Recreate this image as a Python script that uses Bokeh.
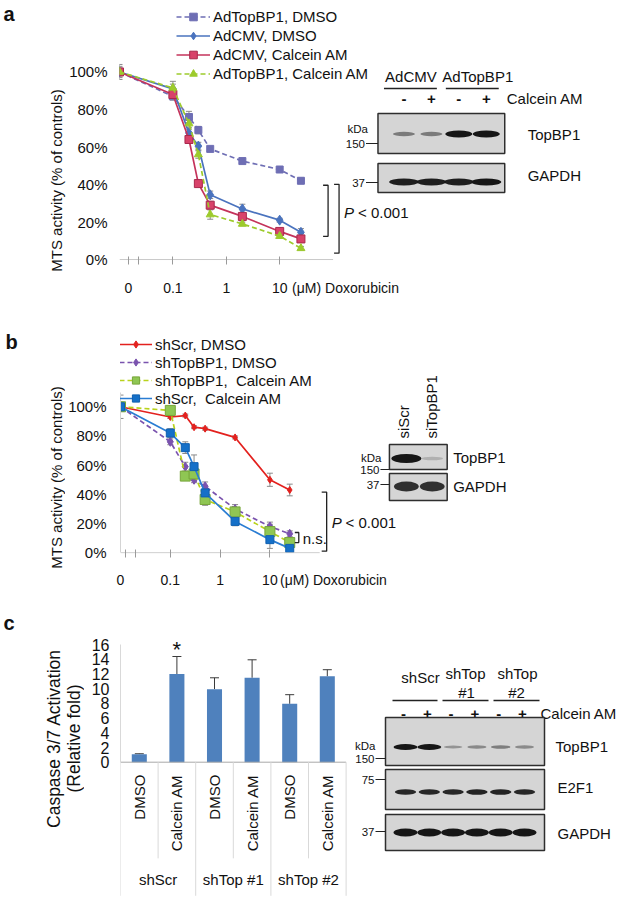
import math
from bokeh.plotting import figure
from bokeh.models import (Range1d, FixedTicker, Legend, LegendItem, Whisker,
                          ColumnDataSource, TeeHead, LinearScale)
from bokeh.layouts import column, row
from bokeh.embed import file_html
from bokeh.resources import INLINE
from bokeh.core.properties import value

FONT = "Liberation Sans"
PAGE_W = 619

# ------------------------------------------------------------------ data: panel a
conc = [0, 0.1, 0.2, 0.3, 0.5, 2, 10, 25]          # uM doxorubicin
zero_pos = 0.01                                      # where the 0 dose sits on the log axis
x_axis_end = 100
a_names = ["AdTopBP1, DMSO", "AdCMV, DMSO", "AdCMV, Calcein AM", "AdTopBP1, Calcein AM"]
a_topbp1_dmso = [100, 87, 76, 69, 59, 52.5, 48, 42]
a_cmv_dmso = [100, 91, 67.5, 60.5, 34.5, 27, 21, 14.5]
a_cmv_calcein = [100, 88, 64, 40.5, 29, 23, 15, 11]
a_topbp1_calcein = [100, 91.5, 72.5, 56, 24, 19, 12.5, 6]
a_topbp1_dmso_err = [4, 2, 3, 2, 1, 1, 1, 1.5]
a_cmv_dmso_err = [3, 4, 2, 2, 2, 2.5, 1, 2]
a_cmv_calcein_err = [2, 2, 1.5, 1.5, 2, 1.5, 1, 1]
a_topbp1_calcein_err = [2, 2, 2, 2, 2.5, 1, 1, 1]
a_brackets = [[39.6, 12.4], [40.1, 3.4]]            # % range spanned by each P bracket
a_breaks = [0.0147, 0.0226]
a_unit_tick = 171
pvalue_text = "< 0.001"
unit_text = "(\u03bcM) Doxorubicin"

# ------------------------------------------------------------------ data: panel b
b_names = ["shScr, DMSO", "shTopBP1, DMSO", "shTopBP1,\u00a0 Calcein AM", "shScr,\u00a0 Calcein AM"]
b_scr_dmso = [100, 93, 94, 86, 85, 79, 50, 43]
b_top_dmso = [100, 76, 59, 50, 45.5, 30, 18, 13]
b_top_calcein = [100, 97.5, 52.5, 54, 36.5, 28, 14.5, 7]
b_scr_calcein = [100, 82, 72, 59, 41, 21.5, 9, 3]
b_scr_dmso_err = [3, 1, 1, 1, 1, 1, 4.5, 4]
b_top_dmso_err = [3, 2, 3, 2, 3, 3, 3, 2]
b_top_calcein_err = [3, 2, 2, 3, 4, 3, 5, 3]
b_scr_calcein_err = [8, 3, 4, 8, 3, 3, 6, 2]
b_bracket_p = [41.5, 1.1]
b_bracket_ns = [13.9, 7.0]
b_breaks = [0.0128, 0.0202]
b_unit_tick = 189

# ------------------------------------------------------------------ data: panel c
c_groups = ["shScr", "shTop #1", "shTop #2"]
c_treatments = ["DMSO", "Calcein AM", "DMSO", "Calcein AM", "DMSO", "Calcein AM"]
c_values = [1.1, 12.0, 9.95, 11.5, 7.95, 11.7]
c_errors = [0.05, 2.4, 1.55, 2.45, 1.25, 0.9]
c_yticks = [0, 2, 4, 6, 8, 10, 12, 14, 16]

# ------------------------------------------------------------------ data: blots (band intensities)
blot_a_groups = ["AdCMV", "AdTopBP1"]
blot_a_signs = ["-", "+", "-", "+"]
blot_a_topbp1 = [0.4, 0.4, 1.0, 1.0]
blot_a_gapdh = [0.95, 0.95, 0.95, 1.0]
blot_b_lanes = ["siScr", "siTopBP1"]
blot_b_topbp1 = [1.0, 0.08]
blot_b_gapdh = [0.85, 0.85]
blot_c_signs = ["-", "+", "-", "+", "-", "+"]
blot_c_topbp1 = [1.0, 1.0, 0.25, 0.32, 0.38, 0.3]
blot_c_e2f1 = [0.9, 0.9, 0.9, 0.92, 0.92, 0.9]
blot_c_gapdh = [1.0, 1.0, 1.0, 1.0, 1.0, 1.0]

pct_labels = {t: f"{t}%" for t in [0, 20, 40, 60, 80, 100]}
INK = "#111111"


def clean(p):
    p.outline_line_color = None
    for g in p.grid:
        g.grid_line_color = None
    p.background_fill_color = "white"
    p.border_fill_color = "white"


def make_fig(width, height, left, bottom, x_range, y_range, x_type="linear", x_axis=True):
    p = figure(width=width, height=height, x_range=x_range, y_range=y_range,
               x_axis_type=x_type, output_backend="svg", toolbar_location=None,
               title=None, min_border_left=left, min_border_right=0,
               min_border_top=0, min_border_bottom=bottom, frame_align=False,
               x_axis_location=("below" if x_axis else None))
    clean(p)
    return p


def strip(width, height, top):
    s = figure(width=width, height=height, x_range=Range1d(0, width),
               y_range=Range1d(-(top + height), -top), output_backend="svg",
               toolbar_location=None, title=None, min_border=0, frame_align=False,
               x_axis_location=None, y_axis_location=None)
    clean(s)
    return s


def set_blot_ranges(p, x0, x1, ytop, ybot):
    p.extra_x_ranges = {"blot": Range1d(x0, x1)}
    p.extra_y_ranges = {"blot": Range1d(-ybot, -ytop)}
    p.extra_x_scales = {"blot": LinearScale()}
    p.extra_y_scales = {"blot": LinearScale()}


def txt(p, x, y, s, size="15px", align="left", base="middle", style="normal", angle=0,
        blot=True):
    kw = dict(x_range_name="blot", y_range_name="blot") if blot else {}
    p.text(x=x, y=[-v for v in y], text=s, text_font=value(FONT), text_font_size=size,
           text_align=align, text_baseline=base, text_font_style=style, angle=angle,
           text_color=INK, **kw)


def box(p, x0, x1, y0, y1):
    p.quad(left=[x0], right=[x1], top=[-y0], bottom=[-y1], fill_color="#D5D5D5",
           line_color="#2E2E2E", line_width=1.5, x_range_name="blot", y_range_name="blot")


def bands(p, x0, dx, yc, inten, w, h):
    xs = [x0 + i * dx for i in range(len(inten))]
    p.ellipse(x=xs, y=[-yc] * len(inten), width=[w * (0.7 + 0.3 * v) for v in inten],
              height=[h * (0.35 + 0.65 * v) for v in inten], fill_color="#161616",
              fill_alpha=[0.12 + 0.88 * v for v in inten], line_color=None,
              x_range_name="blot", y_range_name="blot")


def marker_tick(p, label, xr, y, xbox, size="11.5px"):
    txt(p, [xr], [y], [label], size=size, align="right")
    p.segment(x0=[xr + 1], y0=[-y], x1=[xbox], y1=[-y], line_color="#222222", line_width=1,
              x_range_name="blot", y_range_name="blot")


def series(p, xs, ys, err, color, marker, msize, dash, fill=None, mline=None):
    src = ColumnDataSource(dict(x=xs, upper=[a + b for a, b in zip(ys, err)],
                                lower=[a - b for a, b in zip(ys, err)]))
    p.add_layout(Whisker(source=src, base="x", upper="upper", lower="lower",
                         line_color="#8A8A8A", line_width=1,
                         upper_head=TeeHead(size=6, line_color="#8A8A8A", line_width=1),
                         lower_head=TeeHead(size=6, line_color="#8A8A8A", line_width=1)))
    r1 = p.line(xs, ys, line_color=color, line_width=1.7, line_dash=dash)
    r2 = p.scatter(xs, ys, marker=marker, size=msize, fill_color=fill or color,
                   line_color=mline or color, line_width=1)
    return [r1, r2]


def style_y(p, standoff, yline, size="15px"):
    for ax in p.yaxis:
        ax.major_label_text_font = FONT
        ax.major_label_text_font_size = size
        ax.major_label_text_color = INK
        ax.major_tick_line_color = None
        ax.major_tick_in = 0
        ax.major_tick_out = 0
        ax.minor_tick_line_color = None
        ax.minor_tick_in = 0
        ax.minor_tick_out = 0
        ax.axis_line_color = yline
        ax.major_label_standoff = standoff


def dose_axis(p, breaks, unit_tick, standoff, zero_label_pos):
    ticks = [zero_label_pos, 0.1, 1, 10, unit_tick]
    ax = p.xaxis[0]
    ax.ticker = FixedTicker(ticks=ticks, minor_ticks=list(breaks) + [0.1, 1, 10])
    ax.major_label_overrides = {ticks[0]: "0", 0.1: "0.1", 1: "1", 10: "10", unit_tick: unit_text}
    ax.bounds = (zero_pos, unit_tick)
    ax.axis_line_color = None
    ax.major_tick_line_color = None
    ax.major_tick_in = 0
    ax.major_tick_out = 4
    ax.minor_tick_line_color = "#9A9A9A"
    ax.minor_tick_in = 4
    ax.minor_tick_out = 4
    ax.major_label_text_font = FONT
    ax.major_label_text_font_size = "14px"
    ax.major_label_text_color = INK
    ax.major_label_standoff = standoff
    # visible axis rule from the 0-dose position to the end of the dose scale
    p.segment(x0=[zero_pos], x1=[x_axis_end], y0=[0], y1=[0], line_color="#C8C8C8", line_width=1)


xs_dose = [zero_pos if c == 0 else c for c in conc]

# ================================================================== panel a
SA, HA, bottomA, topA = 66, 310, 50, 0
fhA = HA - bottomA
pxpctA, decA = 1.876, 53.5
fwA = PAGE_W - SA - 52
pa = make_fig(PAGE_W - SA, HA, 52, bottomA,
              Range1d(zero_pos, 10 ** (math.log10(zero_pos) + fwA / decA)),
              Range1d(-0.5, fhA / pxpctA - 0.5), x_type="log")
set_blot_ranges(pa, 118, PAGE_W, topA, topA + fhA)

ra = []
ra.append(series(pa, xs_dose, a_topbp1_dmso, a_topbp1_dmso_err, "#6E6EB4", "square", 7, "5 3"))
ra.append(series(pa, xs_dose, a_cmv_dmso, a_cmv_dmso_err, "#4A73BE", "diamond", 10, "solid"))
ra.append(series(pa, xs_dose, a_cmv_calcein, a_cmv_calcein_err, "#C4335B", "square", 8, "solid",
                 fill="#D8426A", mline="#A8284C"))
ra.append(series(pa, xs_dose, a_topbp1_calcein, a_topbp1_calcein_err, "#9DCB2C", "triangle", 8, "5 3"))

pa.yaxis.ticker = FixedTicker(ticks=[0, 20, 40, 60, 80, 100])
pa.yaxis.major_label_overrides = pct_labels
style_y(pa, 12, None)
dose_axis(pa, a_breaks, a_unit_tick, 15, a_breaks[0])

legA = Legend(items=[LegendItem(label=n, renderers=r) for n, r in zip(a_names, ra)],
              location=(57, 177), padding=0, margin=0, spacing=0, glyph_width=34,
              glyph_height=19, label_height=19, label_standoff=3, border_line_color=None,
              background_fill_alpha=0, label_text_font=FONT, label_text_font_size="15px",
              label_text_color=INK)
pa.add_layout(legA)

for (xv, xt), (yt, yb) in zip([(327, 322), (338, 333)], a_brackets):
    pa.line(x=[xt, xv, xv, xt], y=[yt, yt, yb, yb], x_range_name="blot",
            line_color="#222222", line_width=1.3)
pa.text(x=[343], y=[25.2], text=["P"], x_range_name="blot", text_font=value(FONT),
        text_font_size="15px", text_font_style="italic", text_baseline="middle", text_color=INK)
pa.text(x=[357], y=[25.2], text=[pvalue_text], x_range_name="blot", text_font=value(FONT),
        text_font_size="15px", text_baseline="middle", text_color=INK)

# blot a
txt(pa, [410, 477], [76, 76], blot_a_groups, align="center")
pa.segment(x0=[383, 445], y0=[-88, -88], x1=[436, 498], y1=[-88, -88], line_color="#222222",
           line_width=1.3, x_range_name="blot", y_range_name="blot")
txt(pa, [403 + i * 27.5 for i in range(4)], [98] * 4, blot_a_signs, style="bold", align="center")
txt(pa, [506], [98], ["Calcein AM"])
box(pa, 377, 504, 113, 153)
bands(pa, 403, 27.5, 133.5, blot_a_topbp1, 27, 7)
box(pa, 377, 504, 163, 192)
bands(pa, 403, 27.5, 181.5, blot_a_gapdh, 30, 7)
txt(pa, [527], [134], ["TopBP1"])
txt(pa, [527], [175], ["GAPDH"])
txt(pa, [367], [128], ["kDa"], size="11.5px", align="right")
marker_tick(pa, "150", 364, 143, 377)
marker_tick(pa, "37", 364, 182, 377)

sa = strip(SA, HA, topA)
txt(sa, [3], [13], ["a"], size="20px", style="bold", blot=False)
txt(sa, [56], [180], ["MTS activity (% of controls)"], align="center", angle=math.pi / 2, blot=False)

# ================================================================== panel b
SB, HB, bottomB, topB = 65, 287, 44, 310
fhB = HB - bottomB
pxpctB, decB = 1.46, 50
fwB = PAGE_W - SB - 53
pb = make_fig(PAGE_W - SB, HB, 53, bottomB,
              Range1d(zero_pos, 10 ** (math.log10(zero_pos) + fwB / decB)),
              Range1d(-0.5, fhB / pxpctB - 0.5), x_type="log")
set_blot_ranges(pb, 118, PAGE_W, topB, topB + fhB)

rb = []
rb.append(series(pb, xs_dose, b_scr_dmso, b_scr_dmso_err, "#E3211E", "diamond", 7, "solid"))
rb.append(series(pb, xs_dose, b_top_dmso, b_top_dmso_err, "#7A53AE", "diamond", 9, "5 3"))
rb.append(series(pb, xs_dose, b_top_calcein, b_top_calcein_err, "#B9D21C", "square", 10, "5 3",
                 fill="#8FC653", mline="#77A53A"))
rb.append(series(pb, xs_dose, b_scr_calcein, b_scr_calcein_err, "#2A7DD3", "square", 8, "solid",
                 fill="#1570C8", mline="#1060B0"))

pb.yaxis.ticker = FixedTicker(ticks=[0, 20, 40, 60, 80, 100])
pb.yaxis.major_label_overrides = pct_labels
pb.yaxis.bounds = (0, 110)
style_y(pb, 14, "#D4D4D4")
dose_axis(pb, b_breaks, b_unit_tick, 14, zero_pos)

legB = Legend(items=[LegendItem(label=n, renderers=r) for n, r in zip(b_names, rb)],
              location=(-1, 146), padding=0, margin=0, spacing=0, glyph_width=33,
              glyph_height=18, label_height=18, label_standoff=3, border_line_color=None,
              background_fill_alpha=0, label_text_font=FONT, label_text_font_size="15px",
              label_text_color=INK)
pb.add_layout(legB)

pb.line(x=[320, 325, 325, 320], y=[b_bracket_p[0], b_bracket_p[0], b_bracket_p[1], b_bracket_p[1]],
        x_range_name="blot", line_color="#222222", line_width=1.3)
pb.line(x=[293, 297, 297, 293], y=[b_bracket_ns[0], b_bracket_ns[0], b_bracket_ns[1], b_bracket_ns[1]],
        x_range_name="blot", line_color="#222222", line_width=1.3)
pb.text(x=[330], y=[20.7], text=["P"], x_range_name="blot", text_font=value(FONT),
        text_font_size="15px", text_font_style="italic", text_baseline="middle", text_color=INK)
pb.text(x=[344], y=[20.7], text=[pvalue_text], x_range_name="blot", text_font=value(FONT),
        text_font_size="15px", text_baseline="middle", text_color=INK)
pb.text(x=[301], y=[9.8], text=["n.s."], x_range_name="blot", text_font=value(FONT),
        text_font_size="15px", text_baseline="middle", text_color=INK)

# blot b
txt(pb, [402, 430], [438, 438], blot_b_lanes, angle=math.pi / 2)
box(pb, 388, 446, 444, 469)
bands(pb, 405, 26, 458, blot_b_topbp1, 30, 9)
box(pb, 388, 446, 473, 500)
bands(pb, 405, 26, 486, blot_b_gapdh, 26, 11)
txt(pb, [452], [457], ["TopBP1"])
txt(pb, [452], [486], ["GAPDH"])
txt(pb, [380], [457], ["kDa"], size="11.5px", align="right")
marker_tick(pb, "150", 378, 469, 388)
marker_tick(pb, "37", 378, 484, 388)

sb = strip(SB, HB, topB)
txt(sb, [5], [341], ["b"], size="20px", style="bold", blot=False)
txt(sb, [56], [477], ["MTS activity (% of controls)"], align="center", angle=math.pi / 2, blot=False)

# ================================================================== panel c
SC, HC, topC = 84, 303, 597
pxunitC, catpx = 7.34, 37.6
zeroC = 761.7 - topC
pc = make_fig(PAGE_W - SC, HC, 36, 0, Range1d(0, (PAGE_W - 120) / catpx),
              Range1d(-(HC - zeroC) / pxunitC, zeroC / pxunitC), x_axis=False)
set_blot_ranges(pc, 120, PAGE_W, topC, topC + HC)

xc = [i + 0.5 for i in range(len(c_values))]
pc.vbar(x=xc, top=c_values, width=0.4, bottom=0, fill_color="#4F81BD", line_color=None)
srcC = ColumnDataSource(dict(x=xc, lower=c_values, upper=[v + e for v, e in zip(c_values, c_errors)]))
pc.add_layout(Whisker(source=srcC, base="x", upper="upper", lower="lower", line_color="#3A3A3A",
                      line_width=1, upper_head=TeeHead(size=9, line_color="#3A3A3A", line_width=1),
                      lower_head=None))
nC = len(c_values)
pc.segment(x0=[0], y0=[0], x1=[nC], y1=[0], line_color="#A8A8A8", line_width=1)
bounds_x = list(range(nC + 1))
pc.segment(x0=bounds_x, x1=bounds_x, y0=[0] * len(bounds_x),
           y1=[-18.2 if b % 2 == 0 else -13.1 for b in bounds_x],
           line_color="#D9D9D9", line_width=1)
pc.text(x=xc, y=[-1.7] * nC, text=c_treatments, angle=math.pi / 2, text_align="right",
        text_baseline="middle", text_font=value(FONT), text_font_size="15px", text_color=INK)
pc.text(x=[1, 3, 5], y=[-16.0] * 3, text=c_groups, text_align="center", text_baseline="middle",
        text_font=value(FONT), text_font_size="15px", text_color=INK)
pc.text(x=[xc[1]], y=[c_values[1] + c_errors[1] + 0.9], text=["*"], text_align="center",
        text_baseline="middle", text_font=value(FONT), text_font_size="22px", text_color=INK)

pc.yaxis.ticker = FixedTicker(ticks=c_yticks)
pc.yaxis.bounds = (0, 16)
style_y(pc, 11, "#D9D9D9", size="16px")

# blot c
txt(pc, [420], [677], ["shScr"], align="center")
txt(pc, [465, 517], [673, 673], ["shTop", "shTop"], align="center")
txt(pc, [466, 516], [692, 692], ["#1", "#2"], align="center")
pc.segment(x0=[392, 442, 493], y0=[-700] * 3, x1=[437, 488, 539], y1=[-700] * 3,
           line_color="#222222", line_width=1.3, x_range_name="blot", y_range_name="blot")
txt(pc, [403 + i * 23.8 for i in range(6)], [713] * 6, blot_c_signs, style="bold", align="center")
txt(pc, [540], [713], ["Calcein AM"])
box(pc, 385, 544, 717, 765)
bands(pc, 405, 23.8, 746.5, blot_c_topbp1, 24, 6)
box(pc, 385, 544, 769, 809)
bands(pc, 405, 23.8, 791.5, blot_c_e2f1, 22, 6)
box(pc, 385, 544, 814, 850)
bands(pc, 405, 23.8, 832, blot_c_gapdh, 24, 8)
txt(pc, [555], [746], ["TopBP1"])
txt(pc, [557], [787], ["E2F1"])
txt(pc, [557], [833], ["GAPDH"])
txt(pc, [375], [745], ["kDa"], size="11.5px", align="right")
marker_tick(pc, "150", 374, 758, 385)
marker_tick(pc, "75", 374, 779, 385)
marker_tick(pc, "37", 374, 831, 385)

sc = strip(SC, HC, topC)
txt(sc, [3], [622], ["c"], size="20px", style="bold", blot=False)
txt(sc, [53], [738], ["Caspase 3/7 Activation"], size="17.5px", align="center",
    angle=math.pi / 2, blot=False)
txt(sc, [73], [738], ["(Relative fold)"], size="17.5px", align="center",
    angle=math.pi / 2, blot=False)

layout = column(row(sa, pa, spacing=0), row(sb, pb, spacing=0), row(sc, pc, spacing=0), spacing=0)
open("out.html", "w").write(file_html(layout, INLINE))
